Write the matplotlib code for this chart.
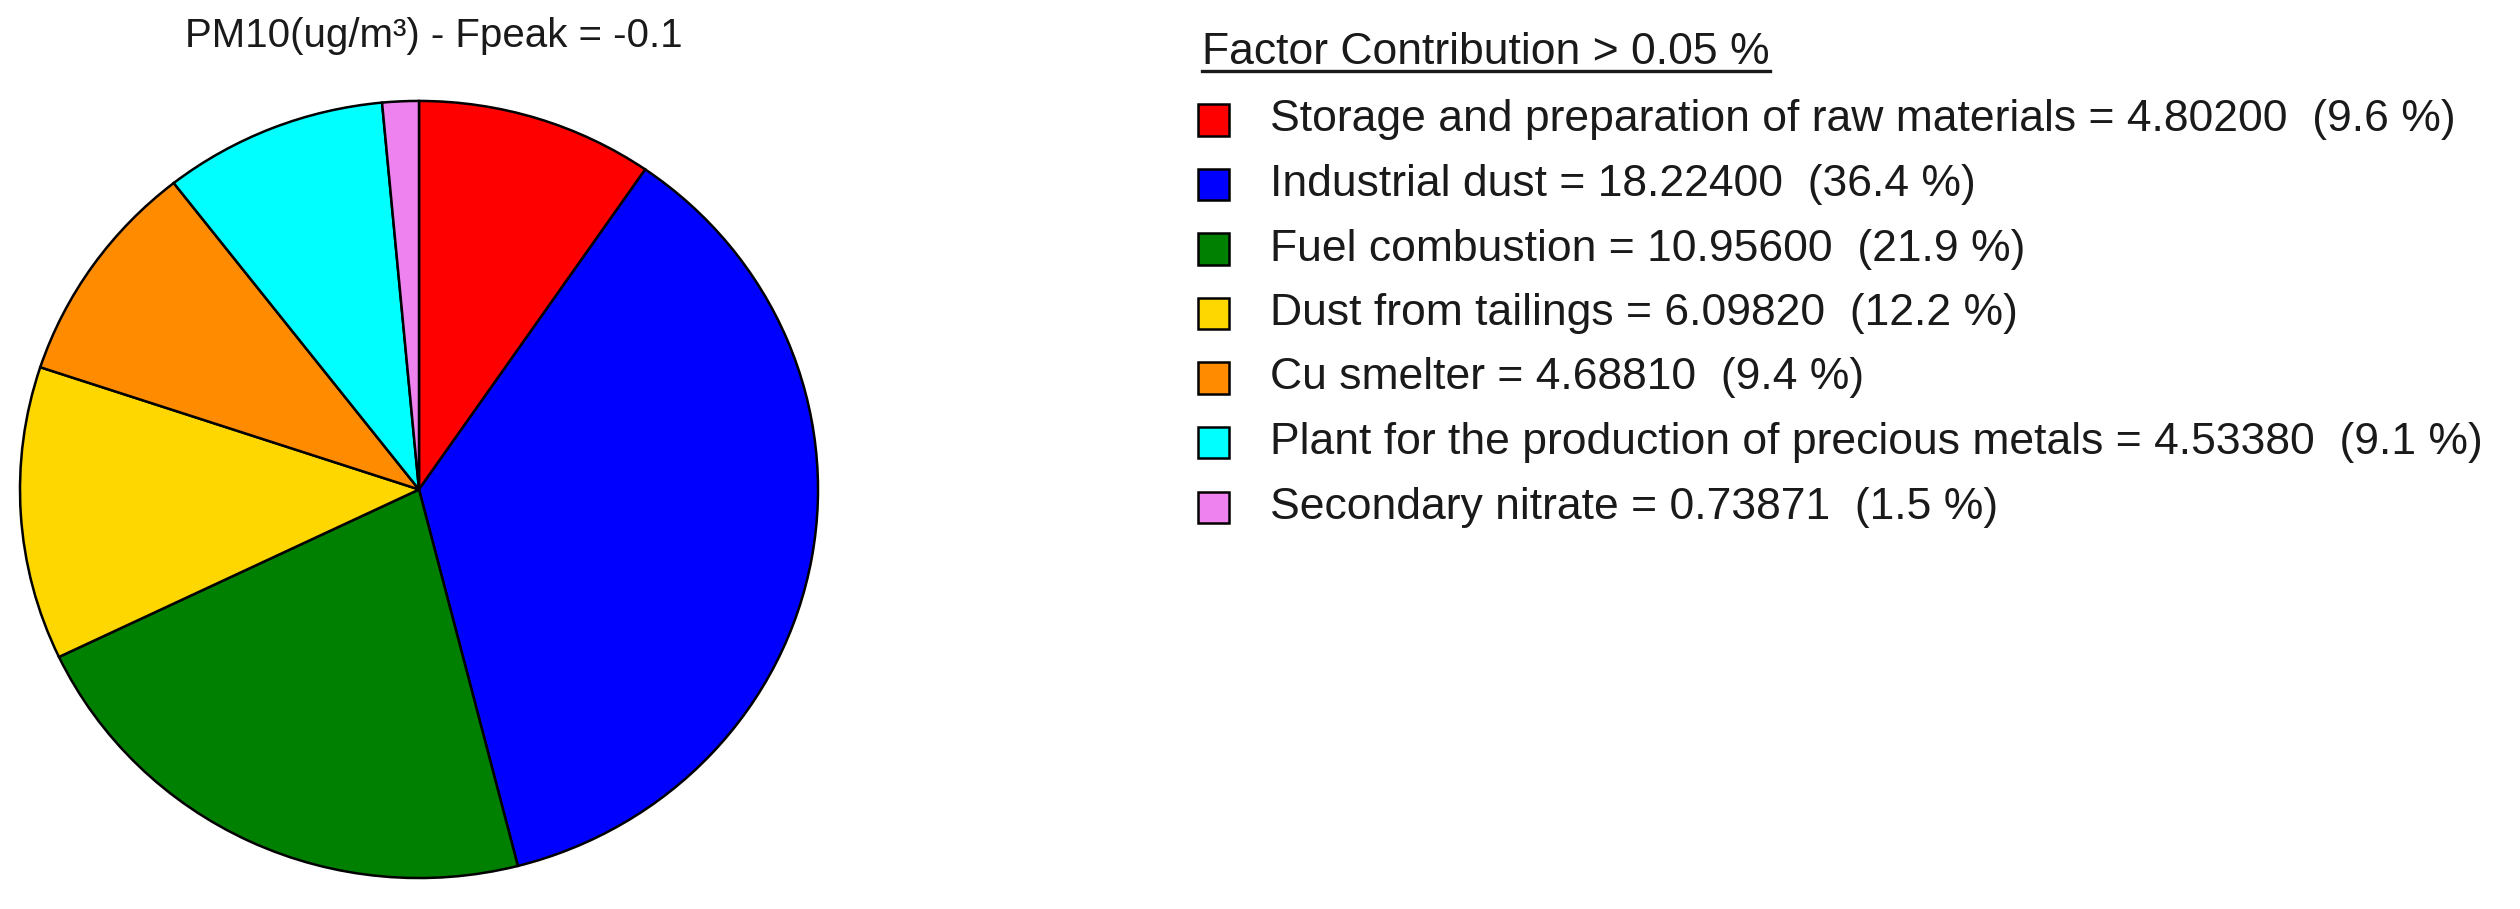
import matplotlib
matplotlib.use("Agg")
import matplotlib.pyplot as plt
from matplotlib.patches import Rectangle
from matplotlib.lines import Line2D

names = ["Storage and preparation of raw materials", "Industrial dust", "Fuel combustion",
         "Dust from tailings", "Cu smelter", "Plant for the production of precious metals",
         "Secondary nitrate"]
values = [4.80200, 18.22400, 10.95600, 6.09820, 4.68810, 4.53380, 0.73871]
colors = ["#FF0000", "#0000FF", "#008000", "#FFD700", "#FF8C00", "#00FFFF", "#EE82EE"]
title = "PM10(ug/m³) - Fpeak = -0.1"
legend_title = "Factor Contribution > 0.05 %"

W, H = 2520, 909
plt.rcParams['font.family'] = ['Liberation Sans', 'DejaVu Sans']
fig = plt.figure(figsize=(W / 100, H / 100), dpi=100)
fig.patch.set_facecolor("white")

# pie axes in pixel box
left, right, top, bottom = 18, 820, 99, 880
ax = fig.add_axes([left / W, (H - bottom) / H, (right - left) / W, (bottom - top) / H])
ax.pie(values, colors=colors, startangle=90, counterclock=False,
       wedgeprops=dict(edgecolor="black", linewidth=1.8))
ax.set_aspect("auto")
ax.set_xlim(-1.005, 1.005)
ax.set_ylim(-1.005, 1.005)
ax.axis("off")

fs = 32
fig.text(434 / W, 1 - 36 / H, title, ha="center", va="center", fontsize=29, color="#1a1a1a")

# legend header with underline
hx, hy = 1202, 52
ht = fig.text(hx / W, 1 - hy / H, legend_title, ha="left", va="center", fontsize=fs, color="#1a1a1a")
fig.canvas.draw()
bb = ht.get_window_extent()
uy = 1 - 71 / H
fig.add_artist(Line2D([bb.x0 / W, bb.x1 / W], [uy, uy], transform=fig.transFigure,
                      color="#1a1a1a", linewidth=2.4))

total = sum(values)
row0, step = 120, 64.5
sq = 31
for i, (n, v, c) in enumerate(zip(names, values, colors)):
    yc = row0 + i * step
    fig.add_artist(Rectangle((1198 / W, 1 - (yc + sq / 2) / H), sq / W, sq / H,
                             transform=fig.transFigure, facecolor=c, edgecolor="black", linewidth=1.8))
    pct = 100 * v / total
    fig.text(1270 / W, 1 - yc / H, f"{n} = {v:.5f}  ({pct:.1f} %)", ha="left", va="center",
             fontsize=fs, color="#1a1a1a")

fig.savefig("out.png", dpi=100, facecolor="white")
